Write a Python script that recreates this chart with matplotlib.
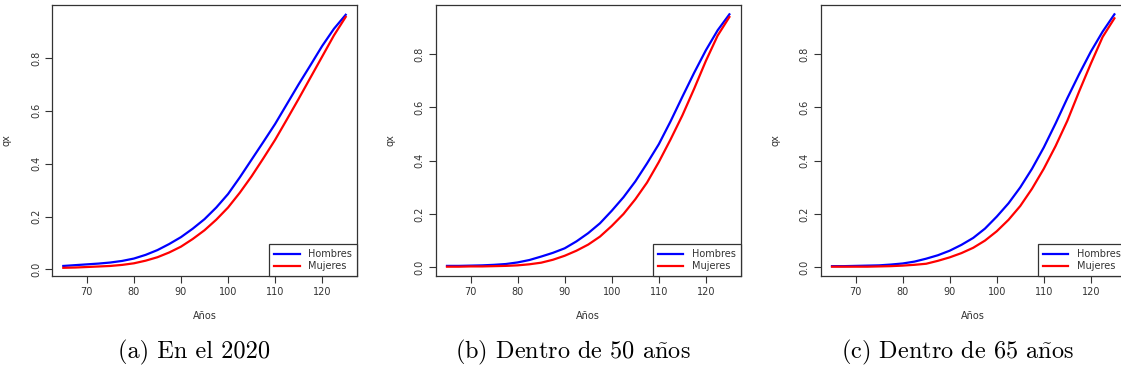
import matplotlib
matplotlib.use("Agg")
import matplotlib.pyplot as plt

plt.rcParams["mathtext.fontset"] = "cm"

edades = [65, 67.5, 70, 72.5, 75, 77.5, 80, 82.5, 85, 87.5, 90, 92.5, 95,
          97.5, 100, 102.5, 105, 107.5, 110, 112.5, 115, 117.5, 120, 122.5, 125]

# (a) En el 2020
hombres_a = [0.013, 0.016, 0.019, 0.022, 0.026, 0.032, 0.041, 0.055, 0.073, 0.096,
             0.122, 0.154, 0.190, 0.234, 0.285, 0.348, 0.415, 0.482, 0.550, 0.625,
             0.700, 0.772, 0.845, 0.910, 0.963]
mujeres_a = [0.006, 0.007, 0.009, 0.011, 0.013, 0.017, 0.023, 0.033, 0.046, 0.064,
             0.086, 0.115, 0.148, 0.188, 0.234, 0.290, 0.352, 0.420, 0.490, 0.567,
             0.645, 0.725, 0.805, 0.885, 0.955]

# (b) Dentro de 50 años
hombres_b = [0.005, 0.005, 0.006, 0.007, 0.009, 0.012, 0.018, 0.027, 0.040, 0.054,
             0.071, 0.097, 0.128, 0.165, 0.212, 0.263, 0.322, 0.390, 0.462, 0.548,
             0.640, 0.730, 0.815, 0.890, 0.950]
mujeres_b = [0.002, 0.002, 0.003, 0.003, 0.004, 0.005, 0.007, 0.011, 0.017, 0.028,
             0.043, 0.062, 0.085, 0.115, 0.155, 0.200, 0.255, 0.318, 0.395, 0.480,
             0.570, 0.670, 0.775, 0.870, 0.940]

# (c) Dentro de 65 años
hombres_c = [0.004, 0.004, 0.005, 0.006, 0.007, 0.010, 0.014, 0.021, 0.032, 0.045,
             0.062, 0.084, 0.110, 0.145, 0.190, 0.240, 0.300, 0.370, 0.450, 0.540,
             0.635, 0.725, 0.810, 0.885, 0.950]
mujeres_c = [0.002, 0.002, 0.002, 0.002, 0.003, 0.004, 0.006, 0.009, 0.013, 0.024,
             0.037, 0.053, 0.073, 0.100, 0.135, 0.178, 0.230, 0.295, 0.370, 0.455,
             0.550, 0.660, 0.765, 0.865, 0.935]

titulos = ["(a) En el 2020",
           r"(b) Dentro de 50 a$\tilde{\rm n}$os",
           r"(c) Dentro de 65 a$\tilde{\rm n}$os"]
xticks = [70, 80, 90, 100, 110, 120]
yticks = [0.0, 0.2, 0.4, 0.6, 0.8]

W, H = 1121, 374
fig = plt.figure(figsize=(W / 100, H / 100), dpi=100)

paneles = [
    (52, hombres_a, mujeres_a, (-0.025, 1.0), 194),
    (435.7, hombres_b, mujeres_b, (-0.033, 0.985), 573),
    (820.7, hombres_c, mujeres_c, (-0.033, 0.985), 957),
]

txt = "#333333"
for (left, hom, muj, ylim, cx), titulo in zip(paneles, titulos):
    ax = fig.add_axes([left / W, 1 - 276 / H, 305 / W, 271 / H])
    ax.plot(edades, hom, color="#0000ff", lw=1.6, label="Hombres")
    ax.plot(edades, muj, color="#ff0000", lw=1.6, label="Mujeres")
    ax.set_xlim(62.6, 127.4)
    ax.set_ylim(*ylim)
    ax.set_xticks(xticks)
    ax.set_yticks(yticks)
    ax.set_yticklabels(["0.0", "0.2", "0.4", "0.6", "0.8"], rotation=90, va="center")
    ax.tick_params(labelsize=7, length=5, width=0.8, colors="#333333", labelcolor=txt, pad=3)
    for s in ax.spines.values():
        s.set_color("#333333")
        s.set_linewidth(0.9)
    ax.set_xlabel("Años", fontsize=7, color=txt, labelpad=10)
    ax.set_ylabel("qx", fontsize=7, color=txt, labelpad=14)
    leg = ax.legend(loc="lower right", borderaxespad=0, fancybox=False, framealpha=1,
                    edgecolor="#333333", fontsize=7, handlelength=2.6, handletextpad=0.9,
                    labelspacing=0.2, borderpad=0.5)
    leg.get_frame().set_linewidth(0.9)
    for t in leg.get_texts():
        t.set_color(txt)
    fig.text(cx / W, 1 - 352 / H, titulo, ha="center", va="center", fontsize=17.5,
             family=["cmr10", "DejaVu Serif"])

fig.savefig("out.png", dpi=100)
